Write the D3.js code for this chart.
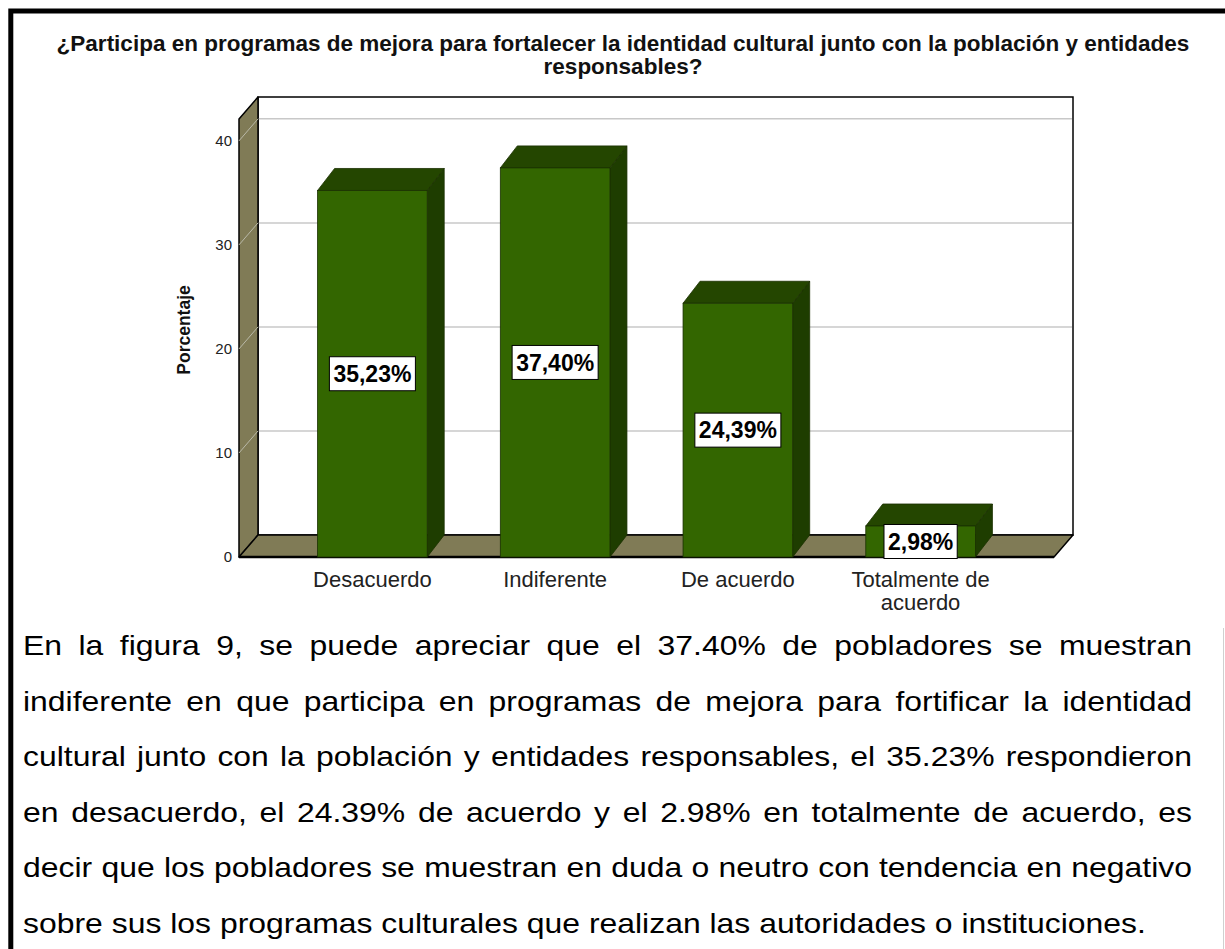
<!DOCTYPE html>
<html>
<head>
<meta charset="utf-8">
<script src="https://cdn.jsdelivr.net/npm/d3@7"></script>
<style>
  html, body { margin: 0; padding: 0; background: #fff; }
  svg { display: block; font-family: Arial, 'Liberation Sans', sans-serif; }
</style>
</head>
<body>
<svg id="chart"></svg>
<script>
// data
const categories = ['Desacuerdo', 'Indiferente', 'De acuerdo', 'Totalmente de acuerdo'];
const percentages = [35.23, 37.4, 24.39, 2.98];
const valueLabels = ['35,23%', '37,40%', '24,39%', '2,98%'];
const categoryLines = [['Desacuerdo'], ['Indiferente'], ['De acuerdo'], ['Totalmente de', 'acuerdo']];
const yTicks = [0, 10, 20, 30, 40];
const titleLines = [
  '¿Participa en programas de mejora para fortalecer la identidad cultural junto con la población y entidades',
  'responsables?',
];
const yTitle = 'Porcentaje';
const paragraphLines = [
  'En la figura 9, se puede apreciar que el 37.40% de pobladores se muestran',
  'indiferente en que participa en programas de mejora para fortificar la identidad',
  'cultural junto con la población y entidades responsables, el 35.23% respondieron',
  'en desacuerdo, el 24.39% de acuerdo y el 2.98% en totalmente de acuerdo, es',
  'decir que los pobladores se muestran en duda o neutro con tendencia en negativo',
  'sobre sus los programas culturales que realizan las autoridades o instituciones.',
];

const W = 1225, H = 949;
const svg = d3.select('#chart').attr('width', W).attr('height', H);
svg.append('rect').attr('width', W).attr('height', H).attr('fill', '#fff');

// plot geometry (front plane + depth offset for the 3d look)
const plot = { left: 239, right: 1054, bottom: 557, top: 119 };
const wallDepth = { dx: 19, dy: -22 };
const barDepth = { dx: 17, dy: -22 };

const colors = {
  wall: '#807b56',
  front: '#336600',
  top: '#244600',
  side: '#1e3d00',
  outline: '#1a3000',
  grid: '#c8c8c8',
};

const y = d3.scaleLinear().domain([0, 42.1]).range([plot.bottom, plot.top]);
const x = d3.scaleBand()
  .domain(categories)
  .range([plot.left, plot.right])
  .paddingInner(0.4)
  .paddingOuter(0.43);

const line = d3.line();

// back wall
svg.append('rect')
  .attr('x', plot.left + wallDepth.dx)
  .attr('y', y(42.1) + wallDepth.dy)
  .attr('width', plot.right - plot.left)
  .attr('height', y(0) - y(42.1))
  .attr('fill', '#fff')
  .attr('stroke', '#000')
  .attr('stroke-width', 1.5);

// gridlines on back wall
svg.append('g')
  .selectAll('line')
  .data(yTicks.filter(t => t > 0))
  .join('line')
  .attr('x1', plot.left + wallDepth.dx)
  .attr('x2', plot.right + wallDepth.dx - 1)
  .attr('y1', d => y(d) + wallDepth.dy)
  .attr('y2', d => y(d) + wallDepth.dy)
  .attr('stroke', colors.grid)
  .attr('stroke-width', 1.5);

// left wall
svg.append('path')
  .attr('d', line([
    [plot.left, y(42.1)],
    [plot.left + wallDepth.dx, y(42.1) + wallDepth.dy],
    [plot.left + wallDepth.dx, y(0) + wallDepth.dy],
    [plot.left, y(0)],
  ]) + 'Z')
  .attr('fill', colors.wall)
  .attr('stroke', '#000')
  .attr('stroke-width', 1.5)
  .attr('stroke-linejoin', 'round');

svg.append('g')
  .selectAll('line')
  .data(yTicks)
  .join('line')
  .attr('x1', plot.left)
  .attr('x2', plot.left + wallDepth.dx)
  .attr('y1', d => y(d))
  .attr('y2', d => y(d) + wallDepth.dy)
  .attr('stroke', '#b9b9a8')
  .attr('stroke-width', 1);

// floor
svg.append('path')
  .attr('d', line([
    [plot.left, y(0)],
    [plot.left + wallDepth.dx, y(0) + wallDepth.dy],
    [plot.right + wallDepth.dx, y(0) + wallDepth.dy],
    [plot.right, y(0)],
  ]) + 'Z')
  .attr('fill', colors.wall)
  .attr('stroke', '#000')
  .attr('stroke-width', 1.5)
  .attr('stroke-linejoin', 'round');

svg.append('line')
  .attr('x1', plot.left).attr('x2', plot.right)
  .attr('y1', y(0)).attr('y2', y(0))
  .attr('stroke', '#000')
  .attr('stroke-width', 2.5);

// y tick labels
svg.append('g')
  .selectAll('text')
  .data(yTicks)
  .join('text')
  .attr('x', plot.left - 7)
  .attr('y', d => y(d))
  .attr('dy', '0.36em')
  .attr('text-anchor', 'end')
  .attr('font-size', 15)
  .attr('fill', '#222')
  .text(d => d);

// y axis title
svg.append('text')
  .attr('transform', 'translate(190,330) rotate(-90)')
  .attr('text-anchor', 'middle')
  .attr('font-size', 17.5)
  .attr('font-weight', 'bold')
  .attr('fill', '#111')
  .text(yTitle);

// bars: front, side and top faces
const bars = svg.append('g')
  .selectAll('g')
  .data(categories.map((c, i) => ({ cat: c, value: percentages[i], label: valueLabels[i], lines: categoryLines[i] })))
  .join('g');

bars.append('path')
  .attr('d', d => {
    const x0 = x(d.cat) + x.bandwidth(), y0 = y(d.value), y1 = y(0);
    return line([[x0, y0], [x0 + barDepth.dx, y0 + barDepth.dy], [x0 + barDepth.dx, y1 + barDepth.dy], [x0, y1]]) + 'Z';
  })
  .attr('fill', colors.side)
  .attr('stroke', colors.outline)
  .attr('stroke-width', 0.8);

bars.append('path')
  .attr('d', d => {
    const x0 = x(d.cat), x1 = x0 + x.bandwidth(), y0 = y(d.value);
    return line([[x0, y0], [x0 + barDepth.dx, y0 + barDepth.dy], [x1 + barDepth.dx, y0 + barDepth.dy], [x1, y0]]) + 'Z';
  })
  .attr('fill', colors.top)
  .attr('stroke', colors.outline)
  .attr('stroke-width', 0.8);

bars.append('rect')
  .attr('x', d => x(d.cat))
  .attr('y', d => y(d.value))
  .attr('width', x.bandwidth())
  .attr('height', d => y(0) - y(d.value))
  .attr('fill', colors.front)
  .attr('stroke', colors.outline)
  .attr('stroke-width', 0.8);

// value label boxes, centred on the bar's front face
const labels = bars.append('g')
  .attr('transform', d => `translate(${x(d.cat) + x.bandwidth() / 2},${(y(d.value) + y(0)) / 2})`);

labels.append('rect').attr('class', 'box');
labels.append('text')
  .attr('text-anchor', 'middle')
  .attr('dy', '0.36em')
  .attr('font-size', 23)
  .attr('font-weight', 'bold')
  .attr('fill', '#000')
  .text(d => d.label);

labels.each(function() {
  const g = d3.select(this);
  const w = g.select('text').node().getComputedTextLength() + 8;
  g.select('rect.box')
    .attr('x', -w / 2).attr('y', -17)
    .attr('width', w).attr('height', 34)
    .attr('fill', '#fff')
    .attr('stroke', '#000')
    .attr('stroke-width', 1);
});

// category labels
bars.append('text')
  .attr('text-anchor', 'middle')
  .attr('font-size', 22)
  .attr('fill', '#222')
  .selectAll('tspan')
  .data(d => d.lines.map(l => ({ l, cx: x(d.cat) + x.bandwidth() / 2 })))
  .join('tspan')
  .attr('x', d => d.cx)
  .attr('y', (d, i) => 587 + i * 23)
  .text(d => d.l);

// title
svg.append('text')
  .attr('text-anchor', 'middle')
  .attr('font-size', 22.5)
  .attr('font-weight', 'bold')
  .attr('fill', '#111')
  .selectAll('tspan')
  .data(titleLines)
  .join('tspan')
  .attr('x', 623)
  .attr('y', (d, i) => 51 + i * 23)
  .text(d => d);

// paragraph, justified word by word (last line left as is);
// the source text is a bit wider than plain Arial, hence the x-scale
const para = { left: 23, right: 1192, top: 655, lineH: 55.6, size: 28.5, sx: 1.12 };
const paraG = svg.append('g').attr('font-size', para.size).attr('fill', '#000');

paragraphLines.forEach((ln, li) => {
  const words = ln.split(' ');
  const row = paraG.append('g')
    .attr('transform', `translate(${para.left},${para.top + li * para.lineH}) scale(${para.sx},1)`);
  const nodes = words.map(w => row.append('text').text(w));
  const widths = nodes.map(n => n.node().getComputedTextLength());
  const span = (para.right - para.left) / para.sx;
  const isLast = li === paragraphLines.length - 1;
  const gap = isLast ? para.size * 0.278 : (span - d3.sum(widths)) / (words.length - 1);
  let cx = 0;
  nodes.forEach((n, i) => {
    n.attr('x', cx);
    cx += widths[i] + gap;
  });
});

// page frame
svg.append('path')
  .attr('d', line([[10.8, H], [10.8, 11], [W, 11]]))
  .attr('fill', 'none')
  .attr('stroke', '#000')
  .attr('stroke-width', 5);

svg.append('line')
  .attr('x1', 1223.5).attr('x2', 1223.5)
  .attr('y1', 628).attr('y2', H)
  .attr('stroke', '#d0d0d0')
  .attr('stroke-width', 1);
</script>
</body>
</html>
